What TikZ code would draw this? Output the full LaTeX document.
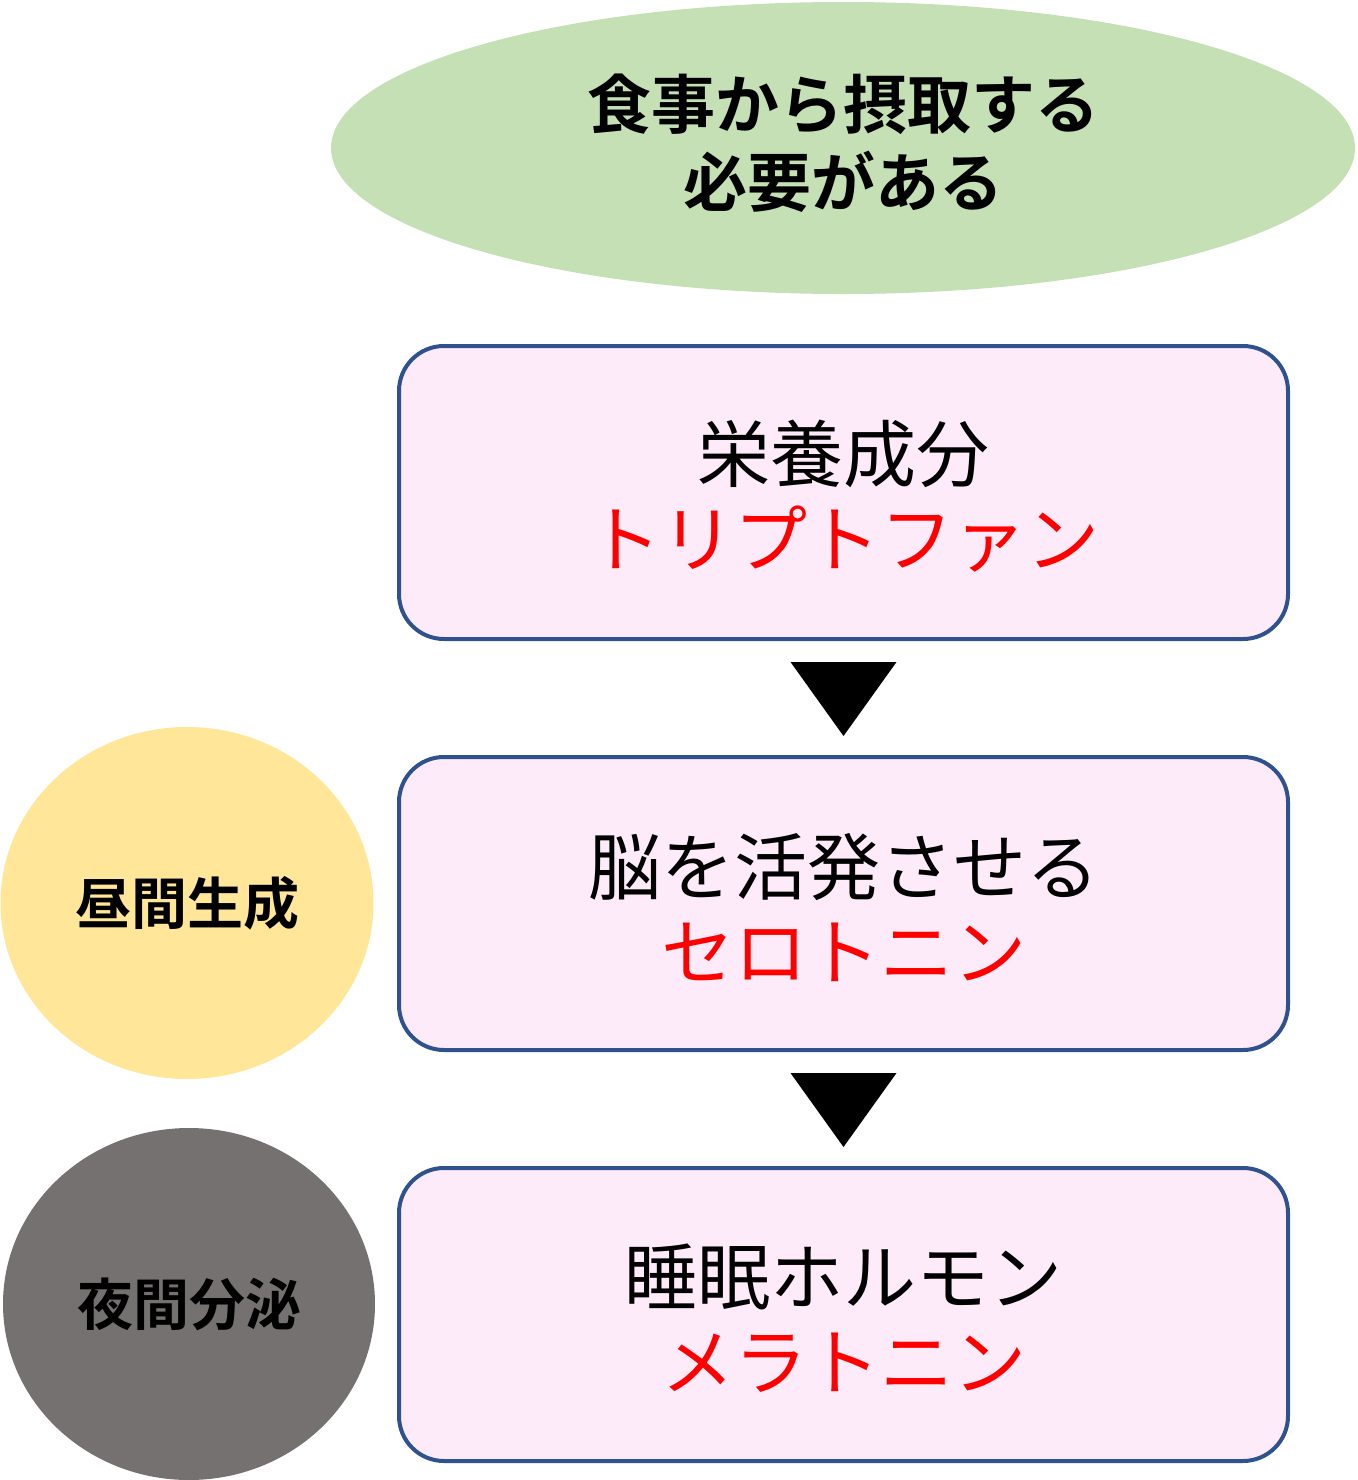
\documentclass[tikz,border=0pt]{standalone}
\usepackage{fontspec}
\newfontfamily\jp{Noto Sans CJK JP}
\newfontfamily\jpb{Noto Sans CJK JP Bold}
\usetikzlibrary{shapes.geometric,calc}
\definecolor{greenfill}{HTML}{C5E0B4}
\definecolor{pinkfill}{HTML}{FDEBF9}
\definecolor{boxline}{HTML}{2F528F}
\definecolor{yellowfill}{HTML}{FFE699}
\definecolor{grayfill}{HTML}{767171}
\definecolor{redtext}{HTML}{FF0000}
\tikzset{
  stepbox/.style={draw=boxline, line width=4pt, fill=pinkfill, rounded corners=45pt,
    minimum width=889pt, minimum height=293pt, inner sep=0pt},
  boxtext/.style={inner sep=0pt, align=center, font=\jp\fontsize{73}{85}\selectfont},
  sidecircle/.style={ellipse, minimum width=373pt, minimum height=352pt, inner sep=0pt,
    align=center, font=\jpb\fontsize{56}{64}\selectfont},
  arrowtri/.style={fill=black}
}
\begin{document}
\begin{tikzpicture}[x=1pt,y=-1pt]
\useasboundingbox (0,0) rectangle (1357,1480);
\node[ellipse, fill=greenfill, minimum width=1024pt, minimum height=292pt, inner sep=0pt] (need) at (843,148) {};
\node[inner sep=0pt, align=center, font=\jpb\fontsize{64}{78}\selectfont] (needt) at ($(need.center)+(0,-5)$) {食事から摂取する\\必要がある};
\node[stepbox] (b1) at (843.5,492.5) {};
\node[stepbox] (b2) at (843.5,903.5) {};
\node[stepbox] (b3) at (843.5,1314.5) {};
\node[boxtext] (b1t) at ($(b1.center)+(0,4)$) {栄養成分\\\textcolor{redtext}{トリプトファン}};
\node[boxtext] (b2t) at ($(b2.center)+(0,4)$) {脳を活発させる\\\textcolor{redtext}{セロトニン}};
\node[boxtext] (b3t) at ($(b3.center)+(0,4)$) {睡眠ホルモン\\\textcolor{redtext}{メラトニン}};
\node[sidecircle, fill=yellowfill] (day) at (187,903) {昼間生成};
\node[sidecircle, fill=grayfill, minimum width=372pt] (night) at (189,1304) {夜間分泌};
\coordinate (t1) at ($(b1.south)+(0,21)$);
\coordinate (t2) at ($(b2.south)+(0,21)$);
\fill[arrowtri] ($(t1)+(-53,0)$) -- ($(t1)+(53,0)$) -- ($(t1)+(0,74)$) -- cycle;
\fill[arrowtri] ($(t2)+(-53,0)$) -- ($(t2)+(53,0)$) -- ($(t2)+(0,74)$) -- cycle;
\end{tikzpicture}
\end{document}
